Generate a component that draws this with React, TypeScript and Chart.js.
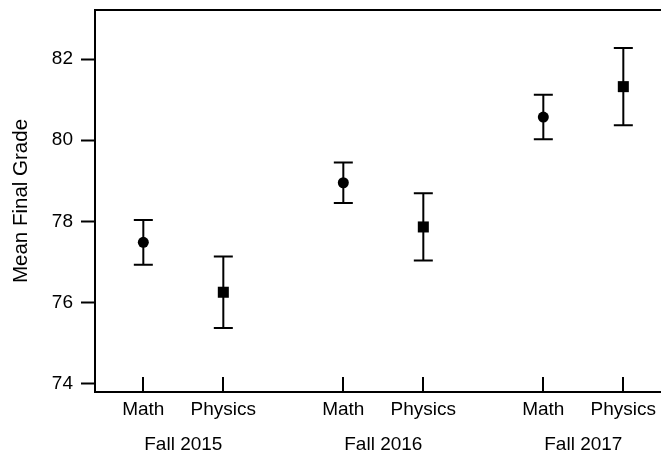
import React, { useEffect, useRef } from 'react';
import { Chart, registerables } from 'chart.js';

Chart.register(...registerables);

// Semesters and the two courses compared in each one
const groups = ['Fall 2015', 'Fall 2016', 'Fall 2017'];
const subjects = ['Math', 'Physics'];

// Mean final grade and the half-length of its error bar, per semester
const mathMeans = [77.48, 78.95, 80.57];
const mathErrors = [0.55, 0.5, 0.55];
const physicsMeans = [76.25, 77.86, 81.32];
const physicsErrors = [0.88, 0.83, 0.95];

// Value axis
const yTicks = [74, 76, 78, 80, 82];
const yRange = [73.79, 83.21];

// Slot layout along the category axis: one unit between courses, a wider gap between semesters
const GROUP_STEP = 2.5;
const xRange = [0.396, 7.471];

const slotPos = (g: number, s: number) => 1 + g * GROUP_STEP + s;
const groupCenter = (g: number) => 1 + g * GROUP_STEP + (subjects.length - 1) / 2;

const FAMILY = '"Liberation Sans", Arial, Helvetica, sans-serif';
const FONT = { family: FAMILY, size: 19 };
const TITLE_FONT = { family: FAMILY, size: 20.5 };
const INK = '#000';

const buildPoints = (s: number, means: number[], errs: number[]) =>
  means.map((m, g) => ({ x: slotPos(g, s), y: m, err: errs[g] }));

const slotLabel = (v: number) => {
  for (let g = 0; g < groups.length; g++) {
    for (let s = 0; s < subjects.length; s++) {
      if (Math.abs(slotPos(g, s) - v) < 1e-6) return subjects[s];
    }
  }
  return '';
};

const groupLabel = (v: number) => {
  for (let g = 0; g < groups.length; g++) {
    if (Math.abs(groupCenter(g) - v) < 1e-6) return groups[g];
  }
  return '';
};

// Vertical error bars with flat caps, drawn under the markers
const errorBars = {
  id: 'errorBars',
  beforeDatasetsDraw(chart: any) {
    const { ctx, scales } = chart;
    const x = scales.x;
    const y = scales.y;
    const cap = 9.5;
    ctx.save();
    ctx.strokeStyle = INK;
    ctx.lineWidth = 2;
    chart.data.datasets.forEach((ds: any) => {
      ds.data.forEach((pt: any) => {
        const px = x.getPixelForValue(pt.x);
        const top = y.getPixelForValue(pt.y + pt.err);
        const bot = y.getPixelForValue(pt.y - pt.err);
        ctx.beginPath();
        ctx.moveTo(px, top);
        ctx.lineTo(px, bot);
        ctx.moveTo(px - cap, top);
        ctx.lineTo(px + cap, top);
        ctx.moveTo(px - cap, bot);
        ctx.lineTo(px + cap, bot);
        ctx.stroke();
      });
    });
    ctx.restore();
  },
};

// Top frame line and inward tick marks on the category axis
const frame = {
  id: 'frame',
  afterDraw(chart: any) {
    const { ctx, chartArea, scales } = chart;
    const x = scales.x;
    ctx.save();
    ctx.strokeStyle = INK;
    ctx.lineWidth = 2;
    ctx.beginPath();
    ctx.moveTo(chartArea.left - 1, chartArea.top);
    ctx.lineTo(chartArea.right, chartArea.top);
    ctx.stroke();
    ctx.beginPath();
    x.ticks.forEach((t: any) => {
      const px = Math.round(x.getPixelForValue(t.value));
      ctx.moveTo(px, chartArea.bottom);
      ctx.lineTo(px, chartArea.bottom - 15);
    });
    ctx.stroke();
    ctx.restore();
  },
};

export default function App() {
  const canvasRef = useRef<HTMLCanvasElement | null>(null);

  useEffect(() => {
    const canvas = canvasRef.current;
    if (!canvas) return;

    const chart = new Chart(canvas, {
      type: 'scatter',
      data: {
        datasets: [
          {
            label: subjects[0],
            data: buildPoints(0, mathMeans, mathErrors),
            pointStyle: 'circle',
            pointRadius: 5.5,
            pointBorderWidth: 0,
            backgroundColor: INK,
            borderColor: INK,
          },
          {
            label: subjects[1],
            data: buildPoints(1, physicsMeans, physicsErrors),
            pointStyle: 'rect',
            pointRadius: 7.8,
            pointBorderWidth: 0,
            backgroundColor: INK,
            borderColor: INK,
          },
        ],
      },
      options: {
        animation: false,
        responsive: false,
        devicePixelRatio: 1,
        layout: { autoPadding: false, padding: { top: 10, right: 0, bottom: 0, left: 0 } },
        plugins: {
          legend: { display: false },
          tooltip: { enabled: false },
        },
        scales: {
          x: {
            type: 'linear',
            position: 'bottom',
            weight: 0,
            min: xRange[0],
            max: xRange[1],
            afterBuildTicks: (s: any) => {
              const ticks: any[] = [];
              groups.forEach((_, g) => subjects.forEach((__, si) => ticks.push({ value: slotPos(g, si) })));
              s.ticks = ticks;
            },
            afterFit: (s: any) => {
              s.height = 35;
              s.paddingLeft = 0;
              s.paddingRight = 0;
            },
            ticks: {
              callback: (v: any) => slotLabel(Number(v)),
              padding: 6,
              font: FONT,
              color: INK,
              maxRotation: 0,
              minRotation: 0,
              autoSkip: false,
            },
            grid: { display: false, drawTicks: false },
            border: { display: true, color: INK, width: 2 },
          },
          xGroup: {
            type: 'linear',
            position: 'bottom',
            weight: 1,
            min: xRange[0],
            max: xRange[1],
            afterBuildTicks: (s: any) => {
              s.ticks = groups.map((_, g) => ({ value: groupCenter(g) }));
            },
            afterFit: (s: any) => {
              s.height = 28;
              s.paddingLeft = 0;
              s.paddingRight = 0;
            },
            ticks: {
              callback: (v: any) => groupLabel(Number(v)),
              padding: 6,
              font: FONT,
              color: INK,
              maxRotation: 0,
              minRotation: 0,
              autoSkip: false,
            },
            grid: { display: false, drawTicks: false },
            border: { display: false },
          },
          y: {
            type: 'linear',
            position: 'left',
            min: yRange[0],
            max: yRange[1],
            afterBuildTicks: (s: any) => {
              s.ticks = yTicks.map((v) => ({ value: v }));
            },
            afterFit: (s: any) => {
              s.width = 95;
              s.paddingTop = 0;
              s.paddingBottom = 0;
            },
            ticks: {
              callback: (v: any) => String(v),
              padding: 8,
              font: FONT,
              color: INK,
            },
            grid: {
              display: true,
              drawOnChartArea: false,
              drawTicks: true,
              tickLength: 14,
              tickWidth: 2,
              tickColor: INK,
            },
            border: { display: true, color: INK, width: 2 },
            title: {
              display: true,
              text: 'Mean Final Grade',
              font: TITLE_FONT,
              color: INK,
              padding: { top: 9, bottom: 0 },
            },
          },
        },
      },
      plugins: [errorBars, frame],
    });

    return () => chart.destroy();
  }, []);

  return (
    <div style={{ position: 'absolute', left: 0, top: 0, width: 661, height: 455, background: '#fff' }}>
      <canvas ref={canvasRef} width={661} height={455} style={{ display: 'block' }} />
    </div>
  );
}
